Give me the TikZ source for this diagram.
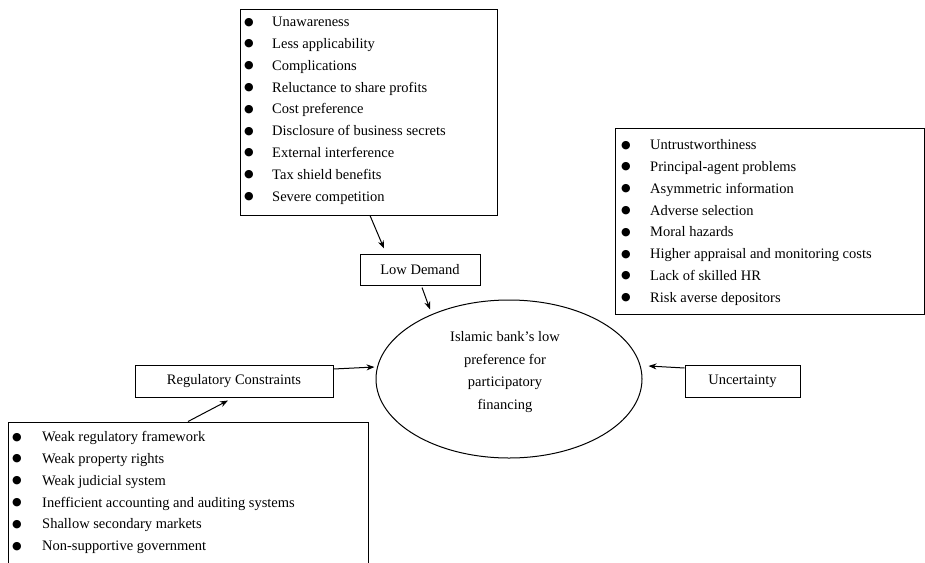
\documentclass[tikz,border=0pt]{standalone}
\usepackage{fontspec}
\setmainfont{Liberation Serif}
\newfontfamily\symfont{DejaVu Sans}
\usetikzlibrary{shapes.geometric,arrows.meta}
\newcommand\bul{\raisebox{1.5pt}{\symfont\fontsize{11}{11}\selectfont ●}}
\tikzset{
  box/.style={draw, line width=1pt, rectangle, inner sep=0pt},
  listtext/.style={inner sep=0pt, anchor=north west, font=\fontsize{14.5}{21.8}\selectfont},
  boxtext/.style={font=\fontsize{14.5}{21.8}\selectfont},
  arr/.style={-{Stealth[length=8pt,width=6pt]}, line width=1pt}
}
\begin{document}
\begin{tikzpicture}[x=1pt,y=-1pt]
\useasboundingbox (0,0) rectangle (925,562);
\clip (0,0) rectangle (925,562);
% boxes
\node[box, minimum width=257pt, minimum height=206pt] (top) at (368.5,112) {};
\node[box, minimum width=309pt, minimum height=186pt] (right) at (769.5,221) {};
\node[box, minimum width=360pt, minimum height=200pt] (bottom) at (188,522) {};
\node[box, boxtext, minimum width=120pt, minimum height=31pt] (low) at (420,269.5) {Low Demand};
\node[box, boxtext, minimum width=198pt, minimum height=32pt] (reg) at (234,381) {Regulatory Constraints};
\node[box, boxtext, minimum width=115pt, minimum height=32pt] (unc) at (742.5,381) {Uncertainty};
\node[draw, line width=1pt, ellipse, inner sep=0pt, minimum width=266pt, minimum height=158pt] (core) at (509,379) {};
\node[boxtext, align=center, font=\fontsize{14.5}{22.7}\selectfont] (coretext) at (505,372)
  {Islamic bank’s low\\preference for\\participatory\\financing};
% lists
\node[listtext] (toplist) at (244,11.2) {\begin{tabular}{@{}p{28pt}@{}l@{}}
\bul & Unawareness\\
\bul & Less applicability\\
\bul & Complications\\
\bul & Reluctance to share profits\\
\bul & Cost preference\\
\bul & Disclosure of business secrets\\
\bul & External interference\\
\bul & Tax shield benefits\\
\bul & Severe competition
\end{tabular}};
\node[listtext] (rightlist) at (621,134.2) {\begin{tabular}{@{}p{29pt}@{}l@{}}
\bul & Untrustworthiness\\
\bul & Principal-agent problems\\
\bul & Asymmetric information\\
\bul & Adverse selection\\
\bul & Moral hazards\\
\bul & Higher appraisal and monitoring costs\\
\bul & Lack of skilled HR\\
\bul & Risk averse depositors
\end{tabular}};
\node[listtext] (bottomlist) at (12,426.2) {\begin{tabular}{@{}p{30pt}@{}l@{}}
\bul & Weak regulatory framework\\
\bul & Weak property rights\\
\bul & Weak judicial system\\
\bul & Inefficient accounting and auditing systems\\
\bul & Shallow secondary markets\\
\bul & Non-supportive government
\end{tabular}};
% connectors
\draw[arr] ([xshift=1.5pt]top.south) -- ([xshift=-36pt,yshift=5pt]low.north);
\draw[arr, shorten >=5pt] ([xshift=2pt,yshift=-2pt]low.south) -- (core.140);
\draw[arr] (bottom.north) -- ([xshift=-6pt,yshift=-3pt]reg.south);
\draw[arr] ([yshift=12pt]reg.east) -- ([yshift=12pt,xshift=-1pt]core.west);
\draw[arr] ([yshift=13pt]unc.west) -- ([yshift=13pt,xshift=6pt]core.east);
\end{tikzpicture}
\end{document}
